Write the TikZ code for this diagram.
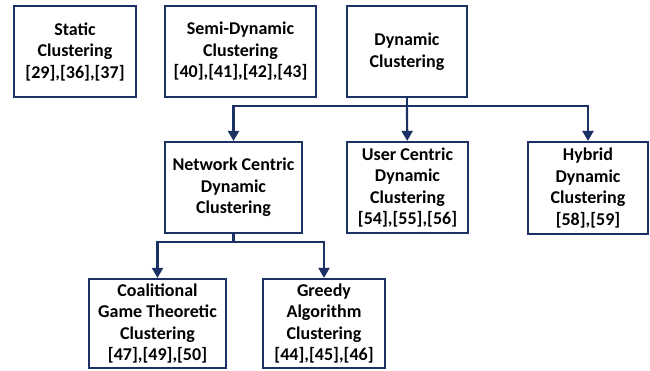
\documentclass[tikz,border=0pt]{standalone}
\usepackage{fontspec}
\setmainfont{Carlito}
\usepackage{tikz}
\usetikzlibrary{shapes,arrows,arrows.meta}
\definecolor{navy}{RGB}{28,50,100}
\tikzstyle{box} = [draw=navy, line width=2.2pt, fill=white, align=center, inner sep=0pt,
  font=\fontsize{18}{21.5}\selectfont\bfseries]
\tikzstyle{link} = [draw=navy, line width=2.2pt]

\begin{document}
\begin{tikzpicture}[x=1pt,y=-1pt,>={Triangle[length=10pt,width=11pt]},auto]
\useasboundingbox (0,0) rectangle (650,370);

% top row
\node[box, minimum width=122pt, minimum height=91pt] (1) at (75,51.5) {Static\\Clustering\\{[29],[36],[37]}};
\node[box, minimum width=151pt, minimum height=91pt] (2) at (240.5,51.5) {Semi-Dynamic\\Clustering\\{[40],[41],[42],[43]}};
\node[box, minimum width=120pt, minimum height=91pt] (3) at (407,51.5) {Dynamic\\Clustering};

% second row
\node[box, minimum width=137pt, minimum height=91pt] (11) at (233.5,187.5) {Network Centric\\Dynamic\\Clustering};
\node[box, minimum width=121pt, minimum height=91pt] (12) at (407.5,187.5) {User Centric\\Dynamic\\Clustering\\{[54],[55],[56]}};
\node[box, minimum width=120pt, minimum height=92pt] (13) at (588,188) {Hybrid\\Dynamic\\Clustering\\{[58],[59]}};

% third row
\node[box, minimum width=137pt, minimum height=89pt] (21) at (157.5,323.5) {Coalitional\\Game Theoretic\\Clustering\\{[47],[49],[50]}};
\node[box, minimum width=122pt, minimum height=89pt] (22) at (324,323.5) {Greedy\\Algorithm\\Clustering\\{[44],[45],[46]}};

\coordinate (j1) at (407,106);
\coordinate (j2) at (233.5,242);

\draw[link] (3) -- (j1);
\draw[link,->] (j1) -| (11);
\draw[link,->] (j1) -- (12);
\draw[link,->] (j1) -| (13);

\draw[link] (11) -- (j2);
\draw[link,->] (j2) -| (21);
\draw[link,->] (j2) -| (22);

\end{tikzpicture}
\end{document}
